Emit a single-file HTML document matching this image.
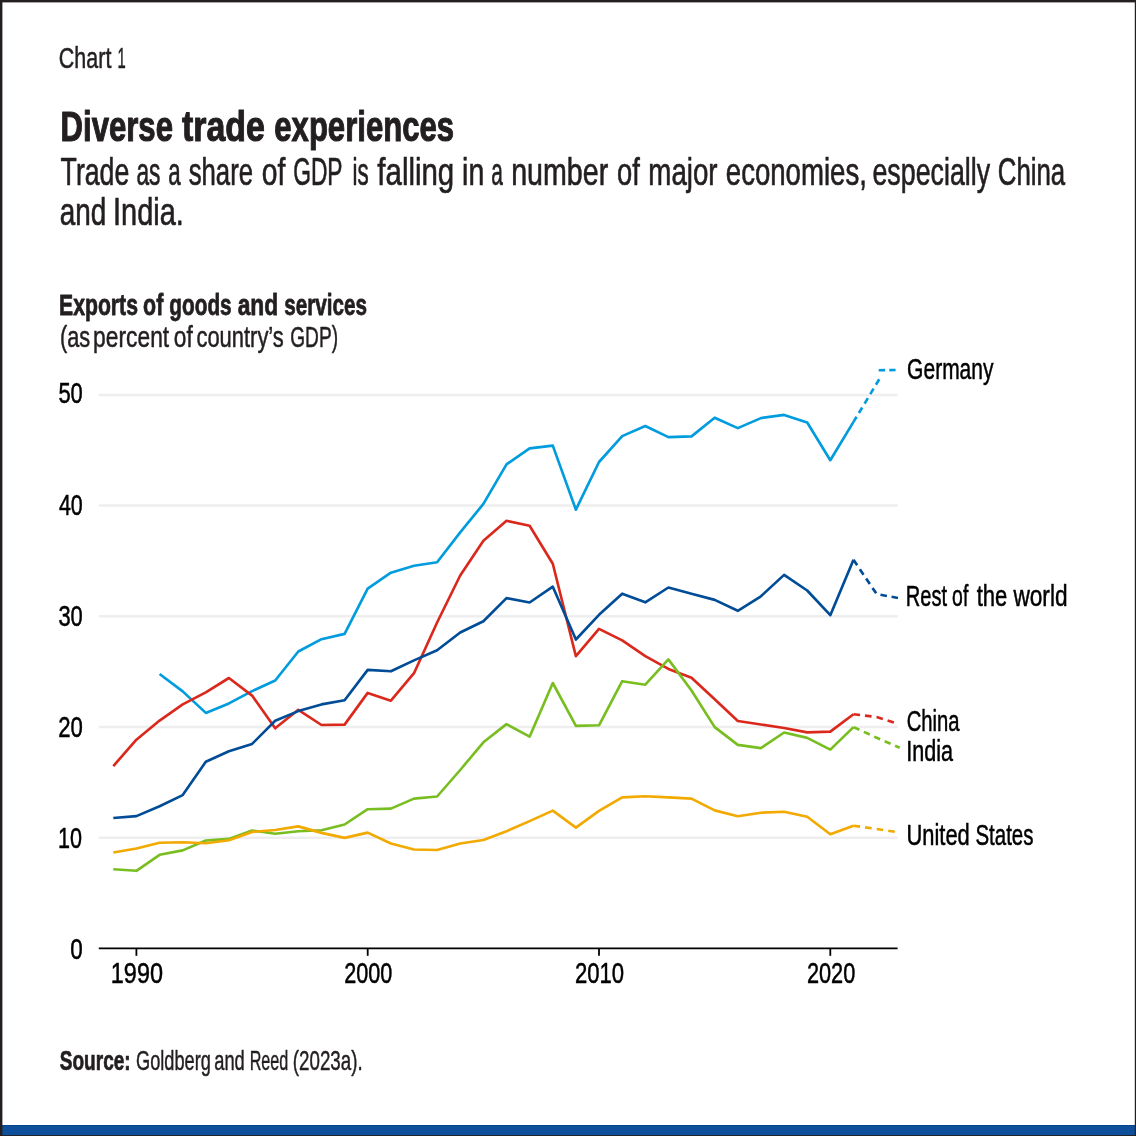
<!DOCTYPE html>
<html lang="en">
<head>
<meta charset="utf-8">
<title>Chart 1 - Diverse trade experiences</title>
<style>
html,body{margin:0;padding:0;background:#fff;}
body{width:1136px;height:1136px;overflow:hidden;}
svg{display:block;will-change:transform;}
text{font-family:'Liberation Sans', Arial, Helvetica, sans-serif;stroke-linejoin:round;}
</style>
</head>
<body>
<svg width="1136" height="1136" viewBox="0 0 1136 1136">
<rect x="0" y="0" width="1136" height="1136" fill="#ffffff"/>
<rect x="0" y="1125" width="1136" height="11" fill="#0d4f9a"/>
<rect x="0" y="1125" width="1136" height="1" fill="#04438f"/>
<rect x="0" y="0" width="1136" height="2.4" fill="#231f20"/>
<rect x="0" y="0" width="2.4" height="1136" fill="#231f20"/>
<rect x="1134.8" y="0" width="1.2" height="1136" fill="#231f20"/>
<rect x="0" y="1135.1" width="1136" height="0.9" fill="#231f20"/>
<g id="grid" stroke="#eeeeee" stroke-width="2.5">
<line x1="98.8" y1="394.9" x2="897.7" y2="394.9"/>
<line x1="98.8" y1="505.6" x2="897.7" y2="505.6"/>
<line x1="98.8" y1="616.3" x2="897.7" y2="616.3"/>
<line x1="98.8" y1="727.1" x2="897.7" y2="727.1"/>
<line x1="98.8" y1="837.8" x2="897.7" y2="837.8"/>
</g>
<g id="series">
<polyline points="159.6,674.0 182.7,691.4 205.8,712.9 228.9,703.4 252.1,691.1 275.2,680.5 298.3,651.5 321.5,639.2 344.6,633.9 367.7,588.7 390.9,572.7 414.0,565.8 437.1,562.3 460.2,532.4 483.4,503.9 506.5,464.3 529.6,448.4 552.8,445.6 575.9,509.7 599.0,462.0 622.2,436.1 645.3,426.0 668.4,437.1 691.5,436.4 714.7,417.7 737.8,428.1 760.9,418.1 784.1,414.9 807.2,422.5 830.3,460.2 853.5,421.9" fill="none" stroke="#009cde" stroke-width="2.65" stroke-linejoin="round"/>
<polyline points="113.3,766.1 136.4,739.7 159.6,720.6 182.7,704.4 205.8,692.3 228.9,678.0 252.1,695.6 275.2,728.3 298.3,709.8 321.5,725.0 344.6,724.6 367.7,692.9 390.9,700.7 414.0,673.2 437.1,622.5 460.2,575.5 483.4,540.8 506.5,520.8 529.6,525.7 552.8,563.7 575.9,656.2 599.0,628.9 622.2,640.4 645.3,656.1 668.4,668.9 691.5,677.7 714.7,699.3 737.8,721.0 760.9,724.5 784.1,728.0 807.2,732.4 830.3,731.6 853.5,714.2" fill="none" stroke="#da291c" stroke-width="2.65" stroke-linejoin="round"/>
<polyline points="113.3,869.2 136.4,870.8 159.6,854.8 182.7,850.4 205.8,840.5 228.9,838.9 252.1,830.5 275.2,833.8 298.3,831.3 321.5,830.3 344.6,824.5 367.7,809.2 390.9,808.6 414.0,798.6 437.1,796.5 460.2,770.0 483.4,742.3 506.5,724.1 529.6,736.7 552.8,683.0 575.9,725.9 599.0,725.3 622.2,681.2 645.3,684.7 668.4,659.4 691.5,690.5 714.7,727.1 737.8,744.9 760.9,748.1 784.1,732.5 807.2,737.9 830.3,749.6 853.5,727.1" fill="none" stroke="#78be20" stroke-width="2.65" stroke-linejoin="round"/>
<polyline points="113.3,852.5 136.4,848.5 159.6,842.8 182.7,842.3 205.8,843.3 228.9,840.2 252.1,831.9 275.2,830.0 298.3,826.4 321.5,832.9 344.6,837.9 367.7,832.6 390.9,843.5 414.0,849.5 437.1,850.0 460.2,843.5 483.4,840.0 506.5,831.2 529.6,821.1 552.8,810.6 575.9,827.6 599.0,810.9 622.2,797.4 645.3,796.3 668.4,797.4 691.5,798.6 714.7,810.4 737.8,816.2 760.9,812.7 784.1,811.8 807.2,816.7 830.3,834.2 853.5,825.7" fill="none" stroke="#f2a900" stroke-width="2.65" stroke-linejoin="round"/>
<polyline points="113.3,818.0 136.4,816.1 159.6,806.2 182.7,795.1 205.8,761.8 228.9,751.3 252.1,743.9 275.2,720.8 298.3,711.1 321.5,704.4 344.6,700.3 367.7,669.9 390.9,671.3 414.0,660.4 437.1,650.3 460.2,632.5 483.4,621.3 506.5,598.1 529.6,602.5 552.8,586.7 575.9,639.5 599.0,614.8 622.2,593.7 645.3,602.3 668.4,587.5 691.5,593.7 714.7,599.9 737.8,610.8 760.9,596.3 784.1,574.9 807.2,590.5 830.3,615.2 853.5,559.8" fill="none" stroke="#004c97" stroke-width="2.65" stroke-linejoin="round"/>
<line x1="853.5" y1="421.9" x2="856.6" y2="416.7" stroke="#009cde" stroke-width="2.65"/>
<polyline points="858.9,413.0 880.0,378.0" fill="none" stroke="#009cde" stroke-width="2.65" stroke-linejoin="round" stroke-dasharray="6.4 4.6"/>
<polyline points="878.7,370.2 895.6,370.0" fill="none" stroke="#009cde" stroke-width="2.65" stroke-linejoin="round" stroke-dasharray="6.4 4.2"/>
<polyline points="853.5,559.8 876.6,594.0 898.0,598.0" fill="none" stroke="#004c97" stroke-width="2.65" stroke-linejoin="round" stroke-dasharray="6.6 4.7"/>
<polyline points="853.5,714.2 876.6,717.0 896.2,723.2" fill="none" stroke="#da291c" stroke-width="2.65" stroke-linejoin="round" stroke-dasharray="6.6 5.0"/>
<polyline points="853.5,727.1 876.6,737.7 899.7,747.8" fill="none" stroke="#78be20" stroke-width="2.65" stroke-linejoin="round" stroke-dasharray="6.5 4.9"/>
<polyline points="853.5,825.7 876.6,829.0 896.0,832.0" fill="none" stroke="#f2a900" stroke-width="2.65" stroke-linejoin="round" stroke-dasharray="6.6 5.1"/>
</g>
<g id="axis" stroke="#000000" stroke-width="1.8">
<line x1="98.8" y1="948.3" x2="897.6" y2="948.3"/>
<line x1="136.4" y1="948.3" x2="136.4" y2="955.8"/>
<line x1="367.7" y1="948.3" x2="367.7" y2="955.8"/>
<line x1="599.0" y1="948.3" x2="599.0" y2="955.8"/>
<line x1="830.3" y1="948.3" x2="830.3" y2="955.8"/>
</g>
<g id="texts">
<text id="chart1" y="67.6" font-size="29.5" fill="#231f20" stroke="#231f20" stroke-width="0.52"><tspan x="58.87" textLength="52.49" lengthAdjust="spacingAndGlyphs">Chart</tspan> <tspan x="117.40" textLength="8.22" lengthAdjust="spacingAndGlyphs">1</tspan></text>
<text id="title" y="140.7" font-size="42.0" font-weight="700" fill="#231f20" stroke="#231f20" stroke-width="1.09"><tspan x="60.55" textLength="112.41" lengthAdjust="spacingAndGlyphs">Diverse</tspan> <tspan x="182.00" textLength="82.94" lengthAdjust="spacingAndGlyphs">trade</tspan> <tspan x="274.30" textLength="179.75" lengthAdjust="spacingAndGlyphs">experiences</tspan></text>
<text id="sub1" y="184.8" font-size="38.2" fill="#231f20" stroke="#231f20" stroke-width="0.67"><tspan x="60.60" textLength="68.69" lengthAdjust="spacingAndGlyphs">Trade</tspan> <tspan x="136.42" textLength="24.01" lengthAdjust="spacingAndGlyphs">as</tspan> <tspan x="168.18" textLength="12.41" lengthAdjust="spacingAndGlyphs">a</tspan> <tspan x="188.70" textLength="64.34" lengthAdjust="spacingAndGlyphs">share</tspan> <tspan x="261.74" textLength="23.52" lengthAdjust="spacingAndGlyphs">of</tspan> <tspan x="293.21" textLength="48.94" lengthAdjust="spacingAndGlyphs">GDP</tspan> <tspan x="352.61" textLength="16.19" lengthAdjust="spacingAndGlyphs">is</tspan> <tspan x="377.35" textLength="76.90" lengthAdjust="spacingAndGlyphs">falling</tspan> <tspan x="462.05" textLength="22.19" lengthAdjust="spacingAndGlyphs">in</tspan> <tspan x="491.34" textLength="11.59" lengthAdjust="spacingAndGlyphs">a</tspan> <tspan x="511.20" textLength="97.05" lengthAdjust="spacingAndGlyphs">number</tspan> <tspan x="617.01" textLength="22.76" lengthAdjust="spacingAndGlyphs">of</tspan> <tspan x="648.35" textLength="69.25" lengthAdjust="spacingAndGlyphs">major</tspan> <tspan x="725.79" textLength="141.13" lengthAdjust="spacingAndGlyphs">economies,</tspan> <tspan x="872.46" textLength="117.64" lengthAdjust="spacingAndGlyphs">especially</tspan> <tspan x="997.72" textLength="67.53" lengthAdjust="spacingAndGlyphs">China</tspan></text>
<text id="sub2" y="224.8" font-size="38.2" fill="#231f20" stroke="#231f20" stroke-width="0.67"><tspan x="59.84" textLength="46.53" lengthAdjust="spacingAndGlyphs">and</tspan> <tspan x="113.00" textLength="70.80" lengthAdjust="spacingAndGlyphs">India.</tspan></text>
<text id="exports" y="314.6" font-size="30.3" font-weight="700" fill="#231f20" stroke="#231f20" stroke-width="0.79"><tspan x="59.05" textLength="78.90" lengthAdjust="spacingAndGlyphs">Exports</tspan> <tspan x="143.09" textLength="20.18" lengthAdjust="spacingAndGlyphs">of</tspan> <tspan x="169.36" textLength="62.29" lengthAdjust="spacingAndGlyphs">goods</tspan> <tspan x="237.65" textLength="40.59" lengthAdjust="spacingAndGlyphs">and</tspan> <tspan x="284.15" textLength="82.74" lengthAdjust="spacingAndGlyphs">services</tspan></text>
<text id="aspct" y="346.6" font-size="30.3" fill="#231f20" stroke="#231f20" stroke-width="0.53"><tspan x="59.90" textLength="30.20" lengthAdjust="spacingAndGlyphs">(as</tspan> <tspan x="93.11" textLength="76.04" lengthAdjust="spacingAndGlyphs">percent</tspan> <tspan x="173.85" textLength="18.91" lengthAdjust="spacingAndGlyphs">of</tspan> <tspan x="196.45" textLength="87.34" lengthAdjust="spacingAndGlyphs">country’s</tspan> <tspan x="290.25" textLength="47.74" lengthAdjust="spacingAndGlyphs">GDP)</tspan></text>
<text id="y50" y="403.4" font-size="29.2" fill="#000000" stroke="#000000" stroke-width="0.51"><tspan x="58.42" textLength="24.37" lengthAdjust="spacingAndGlyphs">50</tspan></text>
<text id="y40" y="514.5" font-size="29.2" fill="#000000" stroke="#000000" stroke-width="0.51"><tspan x="58.92" textLength="23.85" lengthAdjust="spacingAndGlyphs">40</tspan></text>
<text id="y30" y="625.5" font-size="29.2" fill="#000000" stroke="#000000" stroke-width="0.51"><tspan x="58.42" textLength="24.36" lengthAdjust="spacingAndGlyphs">30</tspan></text>
<text id="y20" y="736.5" font-size="29.2" fill="#000000" stroke="#000000" stroke-width="0.51"><tspan x="58.17" textLength="24.62" lengthAdjust="spacingAndGlyphs">20</tspan></text>
<text id="y10" y="847.5" font-size="29.2" fill="#000000" stroke="#000000" stroke-width="0.51"><tspan x="57.95" textLength="24.00" lengthAdjust="spacingAndGlyphs">10</tspan></text>
<text id="y0" y="958.5" font-size="29.2" fill="#000000" stroke="#000000" stroke-width="0.51"><tspan x="70.24" textLength="12.47" lengthAdjust="spacingAndGlyphs">0</tspan></text>
<text id="x1990" y="982.5" font-size="29.2" fill="#000000" stroke="#000000" stroke-width="0.51"><tspan x="110.84" textLength="52.11" lengthAdjust="spacingAndGlyphs">1990</tspan></text>
<text id="x2000" y="982.5" font-size="29.2" fill="#000000" stroke="#000000" stroke-width="0.51"><tspan x="344.15" textLength="48.09" lengthAdjust="spacingAndGlyphs">2000</tspan></text>
<text id="x2010" y="982.5" font-size="29.2" fill="#000000" stroke="#000000" stroke-width="0.51"><tspan x="574.96" textLength="49.14" lengthAdjust="spacingAndGlyphs">2010</tspan></text>
<text id="x2020" y="982.5" font-size="29.2" fill="#000000" stroke="#000000" stroke-width="0.51"><tspan x="806.96" textLength="48.33" lengthAdjust="spacingAndGlyphs">2020</tspan></text>
<text id="lger" y="378.5" font-size="30.1" fill="#000000" stroke="#000000" stroke-width="0.53"><tspan x="907.11" textLength="86.39" lengthAdjust="spacingAndGlyphs">Germany</tspan></text>
<text id="lrow" y="605.6" font-size="30.1" fill="#000000" stroke="#000000" stroke-width="0.53"><tspan x="905.86" textLength="41.29" lengthAdjust="spacingAndGlyphs">Rest</tspan> <tspan x="952.12" textLength="16.15" lengthAdjust="spacingAndGlyphs">of</tspan> <tspan x="976.76" textLength="30.62" lengthAdjust="spacingAndGlyphs">the</tspan> <tspan x="1013.40" textLength="54.18" lengthAdjust="spacingAndGlyphs">world</tspan></text>
<text id="lchn" y="730.5" font-size="30.1" fill="#000000" stroke="#000000" stroke-width="0.53"><tspan x="906.67" textLength="52.89" lengthAdjust="spacingAndGlyphs">China</tspan></text>
<text id="lind" y="760.6" font-size="30.1" fill="#000000" stroke="#000000" stroke-width="0.53"><tspan x="906.27" textLength="46.79" lengthAdjust="spacingAndGlyphs">India</tspan></text>
<text id="lus" y="844.6" font-size="30.1" fill="#000000" stroke="#000000" stroke-width="0.53"><tspan x="906.48" textLength="63.28" lengthAdjust="spacingAndGlyphs">United</tspan> <tspan x="975.41" textLength="58.08" lengthAdjust="spacingAndGlyphs">States</tspan></text>
<text id="src" y="1069.6" font-size="27.1" font-weight="700" fill="#231f20" stroke="#231f20" stroke-width="0.70"><tspan x="59.75" textLength="70.90" lengthAdjust="spacingAndGlyphs">Source:</tspan></text>
<text id="srct" y="1069.6" font-size="27.1" fill="#231f20" stroke="#231f20" stroke-width="0.47"><tspan x="136.10" textLength="74.75" lengthAdjust="spacingAndGlyphs">Goldberg</tspan> <tspan x="214.25" textLength="30.54" lengthAdjust="spacingAndGlyphs">and</tspan> <tspan x="249.70" textLength="38.65" lengthAdjust="spacingAndGlyphs">Reed</tspan> <tspan x="292.84" textLength="69.83" lengthAdjust="spacingAndGlyphs">(2023a).</tspan></text>
</g>
</svg>
</body>
</html>
